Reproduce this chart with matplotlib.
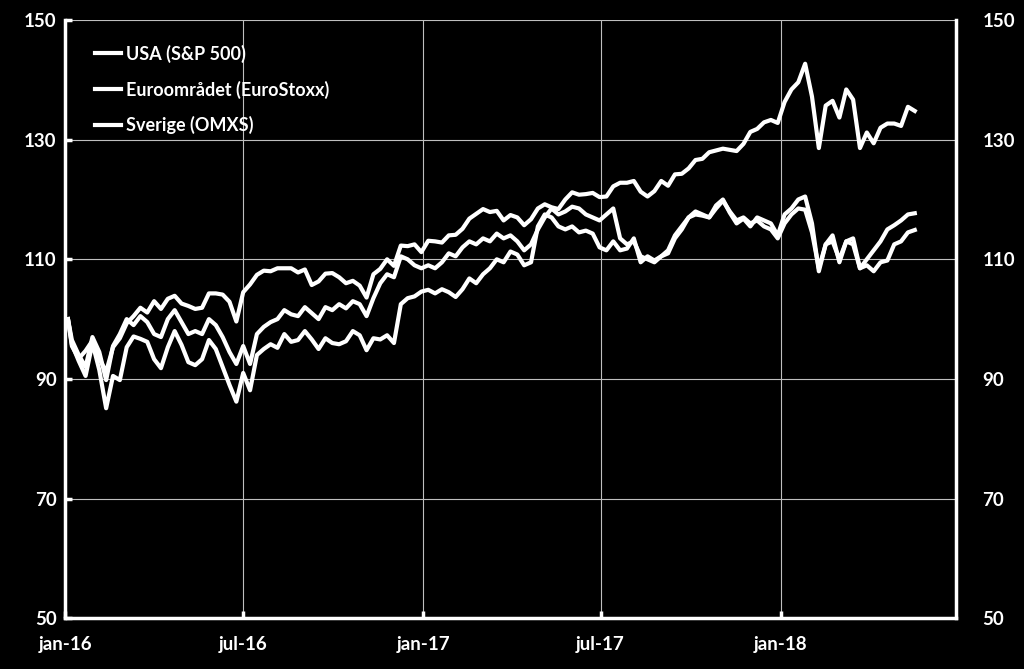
import numpy as np
import pandas as pd
import matplotlib
matplotlib.use("Agg")
import matplotlib.pyplot as plt

# ==========================================================
# DATA (index, 4 jan 2016 = 100, weekly)
# ==========================================================

dates = [pd.Timestamp("2016-01-04")] + list(
    pd.date_range("2016-01-08", "2018-05-18", freq="W-FRI")
)

usa = [100.0,
       # 2016
       95.5, 93.4, 94.7, 96.4, 93.4, 91.2, 95.3, 96.8, 99.3, 100.5,
       101.9, 101.1, 103.0, 101.7, 103.4, 103.9, 102.6, 102.2, 101.7, 101.9,
       104.3, 104.3, 104.1, 102.9, 99.6, 104.5, 105.8, 107.4, 108.1, 108.0,
       108.5, 108.5, 108.5, 107.8, 108.3, 105.7, 106.3, 107.6, 107.7, 107.0,
       106.0, 106.4, 105.6, 103.6, 107.5, 108.4, 110.0, 108.9, 112.3, 112.2,
       112.5, 111.2,
       # 2017
       113.1, 113.0, 112.8, 114.0, 114.1, 115.1, 116.8, 117.6, 118.4, 117.9,
       118.1, 116.5, 117.4, 117.0, 115.7, 116.7, 118.5, 119.2, 118.7, 118.4,
       120.0, 121.2, 120.8, 120.9, 121.1, 120.4, 120.5, 122.2, 122.8, 122.8,
       123.1, 121.3, 120.5, 121.4, 123.1, 122.3, 124.2, 124.3, 125.2, 126.6,
       126.8, 127.9, 128.2, 128.5, 128.3, 128.1, 129.3, 131.3, 131.8, 132.9,
       133.3, 132.8,
       # 2018
       136.3, 138.4, 139.6, 142.7, 137.2, 128.6, 135.7, 136.5, 133.7, 138.4,
       136.7, 128.6, 131.2, 129.4, 132.0, 132.7, 132.7, 132.3, 135.5, 134.8]

euro = [100.0,
        # 2016
        95.8, 93.0, 90.5, 96.0, 91.5, 85.1, 90.5, 89.8, 95.3, 97.1,
        96.7, 96.2, 93.3, 91.8, 95.3, 98.0, 95.7, 92.8, 92.3, 93.3,
        96.5, 95.0, 92.0, 89.0, 86.2, 91.0, 88.1, 94.0, 95.0, 95.8,
        95.2, 97.5, 96.2, 96.5, 98.0, 96.6, 95.0, 96.8, 96.0, 95.8,
        96.3, 98.0, 97.3, 94.8, 96.8, 96.6, 97.3, 96.0, 102.5, 103.5,
        103.8, 104.6,
        # 2017
        104.9, 104.3, 105.0, 104.5, 103.7, 105.0, 106.8, 106.0, 107.5, 108.5,
        110.0, 109.5, 111.3, 110.8, 109.0, 109.5, 115.5, 117.5, 117.0, 115.5,
        115.0, 115.5, 114.5, 114.8, 114.3, 112.0, 111.5, 113.0, 111.5, 111.8,
        113.5, 109.5, 110.5, 109.8, 110.5, 111.5, 114.0, 115.5, 117.0, 117.5,
        117.3, 117.0, 119.0, 120.0, 117.8, 116.0, 116.8, 115.5, 117.0, 116.5,
        116.0, 114.0,
        # 2018
        117.5, 118.5, 120.0, 120.5, 116.0, 108.0, 112.5, 114.0, 109.5, 113.0,
        113.5, 108.5, 110.0, 111.5, 113.0, 115.0, 115.7, 116.5, 117.5, 117.7]

sverige = [100.0,
           # 2016
           96.5, 94.0, 92.0, 97.0, 94.5, 89.8, 95.5, 97.5, 100.0, 99.0,
           100.5, 99.5, 97.5, 97.0, 100.0, 101.5, 99.5, 97.5, 98.0, 97.5,
           100.0, 99.0, 97.0, 94.5, 92.5, 95.5, 92.5, 97.5, 98.7, 99.5,
           100.0, 101.5, 100.8, 100.5, 102.0, 101.0, 100.0, 102.0, 101.5, 102.5,
           101.8, 103.0, 102.5, 100.5, 103.5, 106.0, 107.5, 107.0, 110.5, 110.0,
           109.0, 108.5,
           # 2017
           109.0, 108.5, 109.5, 111.0, 110.5, 112.0, 113.0, 112.5, 113.5, 113.0,
           114.3, 113.5, 114.0, 113.0, 111.5, 112.5, 115.0, 117.0, 118.5, 117.5,
           118.0, 118.8, 118.5, 117.5, 117.0, 116.5, 117.5, 118.5, 113.5, 112.5,
           113.0, 110.5, 110.0, 109.5, 110.5, 111.0, 113.5, 115.0, 117.0, 118.0,
           117.5, 117.0, 118.5, 119.8, 118.0, 116.5, 117.0, 116.0, 116.5, 115.5,
           115.0, 113.5,
           # 2018
           116.0, 117.5, 118.5, 118.3, 114.5, 108.5, 112.5, 113.0, 110.0, 113.0,
           112.5, 108.5, 109.0, 108.0, 109.5, 109.8, 112.5, 113.0, 114.5, 114.9]

labels = ["USA (S&P 500)", "Euroområdet (EuroStoxx)", "Sverige (OMXS)"]

tick_dates = ["2016-01-01", "2016-07-01", "2017-01-01", "2017-07-01", "2018-01-01"]
tick_labels = ["jan-16", "jul-16", "jan-17", "jul-17", "jan-18"]
yticks = [50, 70, 90, 110, 130, 150]

# ==========================================================
# PLOT
# ==========================================================

plt.rcParams["font.family"] = ["Lato", "DejaVu Sans"]
plt.rcParams["font.weight"] = "bold"

fig = plt.figure(figsize=(10.24, 6.69), dpi=100, facecolor="black")
ax = fig.add_axes([0.0635, 0.076, 0.870, 0.894], facecolor="black")

for series, name in zip([usa, euro, sverige], labels):
    ax.plot(dates, series, color="white", lw=3.0, label=name,
            solid_joinstyle="round")

ax.set_ylim(50, 150)
ax.set_yticks(yticks)
ax.set_xlim(pd.Timestamp("2016-01-01"), pd.Timestamp("2018-06-29"))
ax.set_xticks([pd.Timestamp(d) for d in tick_dates])
ax.set_xticklabels(tick_labels)

ax.grid(True, color="#bfbfbf", lw=0.8)
ax.set_axisbelow(True)

for side in ["left", "right", "bottom"]:
    ax.spines[side].set_color("white")
    ax.spines[side].set_linewidth(2.5)
ax.spines["top"].set_visible(False)

ax.tick_params(axis="y", direction="in", length=5, width=2.5, colors="white",
               labelsize=13.5, left=True, right=True, labelleft=True,
               labelright=False, pad=6)
ax.tick_params(axis="x", direction="in", length=5, width=2.5, colors="white",
               labelsize=13.5, pad=13)

# right hand labels
ax2 = ax.twinx()
ax2.set_ylim(ax.get_ylim())
ax2.set_yticks(yticks)
ax2.tick_params(axis="y", direction="in", length=0, colors="white",
                labelsize=13.5, pad=19)
for s in ax2.spines.values():
    s.set_visible(False)

leg = ax.legend(loc="upper left", bbox_to_anchor=(0.034, 0.959),
                frameon=False, fontsize=13, handlelength=1.4,
                handletextpad=0.3, labelspacing=0.98,
                borderpad=0, borderaxespad=0)
for t in leg.get_texts():
    t.set_color("white")

fig.savefig("out.png", dpi=100, facecolor="black")
